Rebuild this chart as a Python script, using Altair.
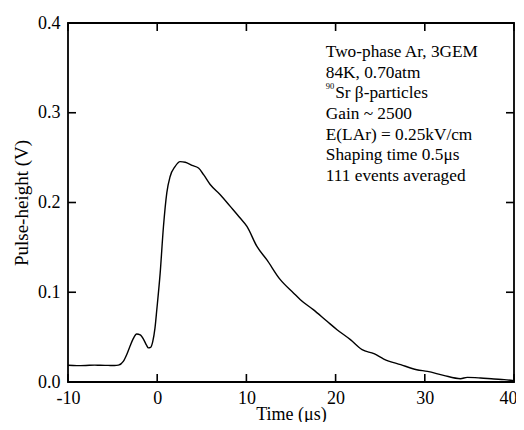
import altair as alt
import pandas as pd

# Pulse waveform
time_us = [-10.0, -9.0, -8.0, -7.0, -6.4, -5.5, -4.8, -4.35, -3.8, -3.4, -3.04, -2.7, -2.3,
           -1.9, -1.5, -1.2, -0.98, -0.75, -0.5, -0.25, -0.04, 0.33, 0.70, 1.08, 1.45,
           2.0, 2.57, 3.14, 3.9, 4.63, 5.2, 5.94, 7.07, 8.19, 9.3, 10.06, 11.18, 12.3,
           13.8, 15.3, 16.05, 17.5, 19.04, 20.16, 21.66, 22.97, 24.3, 25.4, 27.3, 29.1,
           30.3, 32.1, 34.0, 34.76, 36.25, 37.75, 38.9, 40.0]
pulse_v = [0.0186, 0.0182, 0.0184, 0.0188, 0.0186, 0.0185, 0.0184, 0.0188, 0.023, 0.031, 0.040, 0.048, 0.0535,
           0.0525, 0.047, 0.041, 0.038, 0.0385, 0.045, 0.060, 0.081, 0.121, 0.173, 0.211, 0.229,
           0.240, 0.2455, 0.2448, 0.2414, 0.2384, 0.231, 0.220, 0.2087, 0.1957, 0.1827, 0.1734, 0.151, 0.136,
           0.114, 0.099, 0.0917, 0.0806, 0.0676, 0.0583, 0.0472, 0.036, 0.0316, 0.0256, 0.0193, 0.0137,
           0.0119, 0.0074, 0.0037, 0.0052, 0.0045, 0.0033, 0.0026, 0.0015]

x_ticks = [-10, 0, 10, 20, 30, 40]
y_ticks = [0.0, 0.1, 0.2, 0.3, 0.4]

note_lines = ["Two-phase Ar, 3GEM", "84K, 0.70atm", "Sr \u03b2-particles", "Gain ~ 2500",
              "E(LAr) = 0.25kV/cm", "Shaping time 0.5\u03bcs", "111 events averaged"]
note_x = [18.9, 18.9, 19.95, 18.9, 18.9, 18.9, 18.9]
note_y = [0.362, 0.339, 0.316, 0.293, 0.270, 0.247, 0.224]
sup_text = ["90"]
sup_x = [18.9]
sup_y = [0.3262]

FONT = "Liberation Serif"
W, H = 446, 359

df = pd.DataFrame({"t": time_us, "v": pulse_v})
xt = pd.DataFrame({"t": x_ticks})
yt = pd.DataFrame({"v": y_ticks})
notes = pd.DataFrame({"t": note_x, "v": note_y, "txt": note_lines})
sup = pd.DataFrame({"t": sup_x, "v": sup_y, "txt": sup_text})

xs = alt.Scale(domain=[-10, 40], nice=False, zero=False)
ys = alt.Scale(domain=[0, 0.4], nice=False)

line = alt.Chart(df).mark_line(color="black", strokeWidth=1.4, interpolate="monotone").encode(
    x=alt.X("t:Q", scale=xs, title="Time (\u03bcs)",
            axis=alt.Axis(values=x_ticks, labelExpr="'' + datum.value", tickSize=0, domain=False,
                          grid=False, labelFlush=False, labelOverlap=False,
                          labelOffset={"expr": "datum.value == 40 ? -6 : 0"},
                          labelFont=FONT, labelFontSize=18, labelColor="black",
                          labelPadding=7, titleFont=FONT, titleFontSize=18, titleFontWeight="normal",
                          titleColor="black", titlePadding=-2)),
    y=alt.Y("v:Q", scale=ys, title="Pulse-height (V)",
            axis=alt.Axis(values=y_ticks, format=".1f", tickSize=0, domain=False, grid=False,
                          labelFlush=False, labelOverlap=False,
                          labelFont=FONT, labelFontSize=18, labelColor="black", labelPadding=8,
                          titleFont=FONT, titleFontSize=19, titleFontWeight="normal",
                          titleColor="black", titlePadding=6)),
)

tick_style = dict(color="black", strokeWidth=1.6)
bottom_ticks = alt.Chart(xt).mark_rule(**tick_style).encode(
    x=alt.X("t:Q", scale=xs), y=alt.value(H), y2=alt.value(H - 8))
top_ticks = alt.Chart(xt).mark_rule(**tick_style).encode(
    x=alt.X("t:Q", scale=xs), y=alt.value(0), y2=alt.value(8))
left_ticks = alt.Chart(yt).mark_rule(**tick_style).encode(
    y=alt.Y("v:Q", scale=ys), x=alt.value(0), x2=alt.value(8))
right_ticks = alt.Chart(yt).mark_rule(**tick_style).encode(
    y=alt.Y("v:Q", scale=ys), x=alt.value(W), x2=alt.value(W - 8))

note_text = alt.Chart(notes).mark_text(font=FONT, fontSize=17.3, align="left",
                                       baseline="alphabetic", color="black").encode(
    x=alt.X("t:Q", scale=xs), y=alt.Y("v:Q", scale=ys), text="txt:N")
sup_mark = alt.Chart(sup).mark_text(font=FONT, fontSize=8.5, align="left",
                                    baseline="alphabetic", color="black").encode(
    x=alt.X("t:Q", scale=xs), y=alt.Y("v:Q", scale=ys), text="txt:N")

chart = alt.layer(line, bottom_ticks, top_ticks, left_ticks, right_ticks, note_text, sup_mark).properties(
    width=W, height=H,
    autosize=alt.AutoSizeParams(type="none"),
    padding={"left": 60, "top": 15, "right": 2, "bottom": 40},
    background="white",
).configure_view(stroke="black", strokeWidth=1.8)

chart.save("out.html", embed_options={"renderer": "svg", "actions": False})
